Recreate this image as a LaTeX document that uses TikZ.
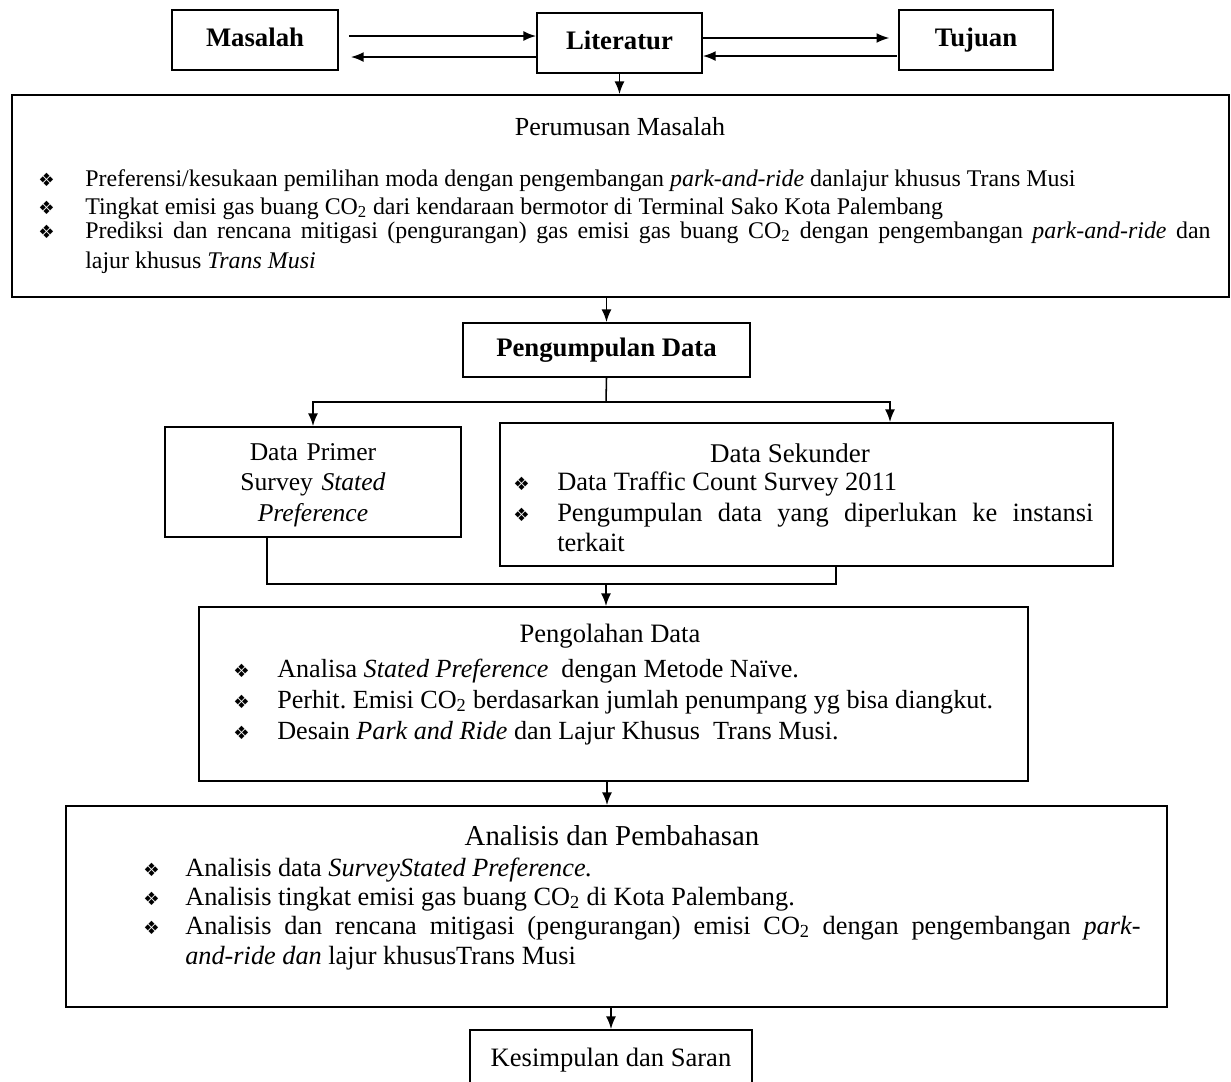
\documentclass[tikz,border=0pt]{standalone}
\usepackage{fontspec}
\setmainfont{Liberation Serif}
\newfontfamily\symfont{DejaVu Sans}
\usetikzlibrary{arrows.meta,fit}
\newcommand{\bul}{{\symfont\fontsize{13}{13}\selectfont\char"2756}}
\tikzset{
  box/.style={draw, line width=1.3pt, inner sep=0pt},
  arr/.style={line width=1.1pt, -{Latex[length=9pt,width=7pt]}},
  garis/.style={line width=1.1pt},
  tebal/.style={font=\bfseries\fontsize{19}{21}\selectfont, text height=13.5pt, text depth=4.5pt},
  tanda/.style={anchor=base west, inner sep=0pt},
  isi/.style={anchor=base west, inner sep=0pt, align=justify},
}
\begin{document}
\frenchspacing
\begin{tikzpicture}[x=0.025cm, y=-0.025cm]
\useasboundingbox (0,0) rectangle (1231,1081);
% baris atas
\node[box, tebal, minimum width=4.15cm, minimum height=1.5cm] (mas) at (255,40) {Masalah};
\node[box, tebal, minimum width=4.125cm, minimum height=1.5cm] (lit) at (619.5,43) {Literatur};
\node[box, tebal, minimum width=3.85cm, minimum height=1.5cm] (tuj) at (976,40) {Tujuan};
\draw[arr, shorten <=0.25cm] (mas.east |- 0,36) -- (lit.west |- 0,36);
\draw[arr, shorten >=0.3cm] (lit.west |- 0,57) -- (mas.east |- 0,57);
\draw[arr, shorten >=0.22cm] (lit.east |- 0,38) -- (tuj.west |- 0,38);
\draw[arr, shorten <=0.03cm] (tuj.west |- 0,56) -- (lit.east |- 0,56);
% perumusan masalah
\node[box, fit={(12,95) (1229,297)}] (rum) {};
\draw[arr] (lit.south) -- (lit.south |- rum.north);
\node[font=\fontsize{18.5}{21}\selectfont] (rumjudul) at (620,127) {Perumusan Masalah};
\begin{scope}[font=\fontsize{17}{22}\selectfont]
\node[tanda] (rumb1) at (38,186) {\bul};
\node[isi] (rum1) at (85,186) {Preferensi/kesukaan pemilihan moda dengan pengembangan \textit{park-and-ride} danlajur khusus Trans Musi};
\node[tanda] (rumb2) at (38,214) {\bul};
\node[isi] (rum2) at (85,214) {Tingkat emisi gas buang CO\textsubscript{2} dari kendaraan bermotor di Terminal Sako Kota Palembang};
\node[tanda] (rumb3) at (38,238) {\bul};
\node[isi, text width=28.125cm] (rum3) at (85,238) {Prediksi dan rencana mitigasi (pengurangan) gas emisi gas buang CO\textsubscript{2} dengan pengembangan \textit{park-and-ride} dan\linebreak lajur khusus \textit{Trans Musi}};
\end{scope}
% pengumpulan data
\node[box, tebal, minimum width=7.175cm, minimum height=1.35cm] (kum) at (606.5,350) {Pengumpulan Data};
\draw[arr] (kum.north |- rum.south) -- (kum.north);
\coordinate (cab) at (606,402);
\node[box, fit={(165,427) (461,537)}] (pri) {};
\node[box, fit={(500,423) (1113,566)}] (sek) {};
\draw[garis] (kum.south) -- (cab);
\draw[arr] (cab) -| (pri.north);
\draw[arr] (cab) -| (sek.north -| 890,0);
\node[anchor=base, text width=7cm, align=center, inner sep=0pt,
  font=\fontsize{18.2}{22}\selectfont] (priisi) at (313,460)
  {Data Primer\\Survey \textit{Stated}\\\textit{Preference}};
\node[font=\fontsize{19.2}{21}\selectfont] (sekjudul) at (790,453) {Data Sekunder};
\begin{scope}[font=\fontsize{18.8}{21.5}\selectfont]
\node[tanda] (sekb1) at (513,490) {\bul};
\node[isi] (sek1) at (557,490) {Data Traffic Count Survey 2011};
\node[tanda] (sekb2) at (513,521) {\bul};
\node[isi, text width=13.4cm] (sek2) at (557,521) {Pengumpulan data yang diperlukan ke instansi\linebreak terkait};
\end{scope}
% pengolahan data
\coordinate (gab) at (606,584);
\draw[garis] (pri.south -| 267,0) |- (gab) -| (sek.south -| 836,0);
\node[box, fit={(199,607) (1028,781)}] (olah) {};
\draw[arr] (gab) -- (gab |- olah.north);
\node[font=\fontsize{18.9}{21}\selectfont] (olahjudul) at (610,636) {Pengolahan Data};
\begin{scope}[font=\fontsize{18.6}{22}\selectfont]
\node[tanda] (olahb1) at (233,677) {\bul};
\node[isi] (olah1) at (277,677) {Analisa \textit{Stated Preference} ~dengan Metode Naïve.};
\node[tanda] (olahb2) at (233,708) {\bul};
\node[isi] (olah2) at (277,708) {Perhit. Emisi CO\textsubscript{2} berdasarkan jumlah penumpang yg bisa diangkut.};
\node[tanda] (olahb3) at (233,739) {\bul};
\node[isi] (olah3) at (277,739) {Desain \textit{Park and Ride} dan Lajur Khusus ~Trans Musi.};
\end{scope}
% analisis dan pembahasan
\node[box, fit={(66,806) (1167,1007)}] (anl) {};
\draw[arr] (olah.south -| 607,0) -- (anl.north -| 607,0);
\node[font=\fontsize{20.5}{23}\selectfont] (anljudul) at (612,836) {Analisis dan Pembahasan};
\begin{scope}[font=\fontsize{18.7}{22}\selectfont]
\node[tanda] (anlb1) at (143,876) {\bul};
\node[isi] (anl1) at (185,876) {Analisis data \textit{SurveyStated Preference.}};
\node[tanda] (anlb2) at (143,905) {\bul};
\node[isi] (anl2) at (185,905) {Analisis tingkat emisi gas buang CO\textsubscript{2} di Kota Palembang.};
\node[tanda] (anlb3) at (143,934) {\bul};
\node[isi, text width=23.875cm] (anl3) at (185,934) {Analisis dan rencana mitigasi (pengurangan) emisi CO\textsubscript{2} dengan pengembangan \textit{park-}\linebreak\textit{and-ride dan} lajur khususTrans Musi};
\end{scope}
% kesimpulan
\node[box, font=\fontsize{18.9}{21}\selectfont, minimum width=7.05cm, minimum height=1.5cm] (kes) at (611,1060) {Kesimpulan dan Saran};
\draw[arr] (kes.north |- anl.south) -- (kes.north);
\end{tikzpicture}
\end{document}
